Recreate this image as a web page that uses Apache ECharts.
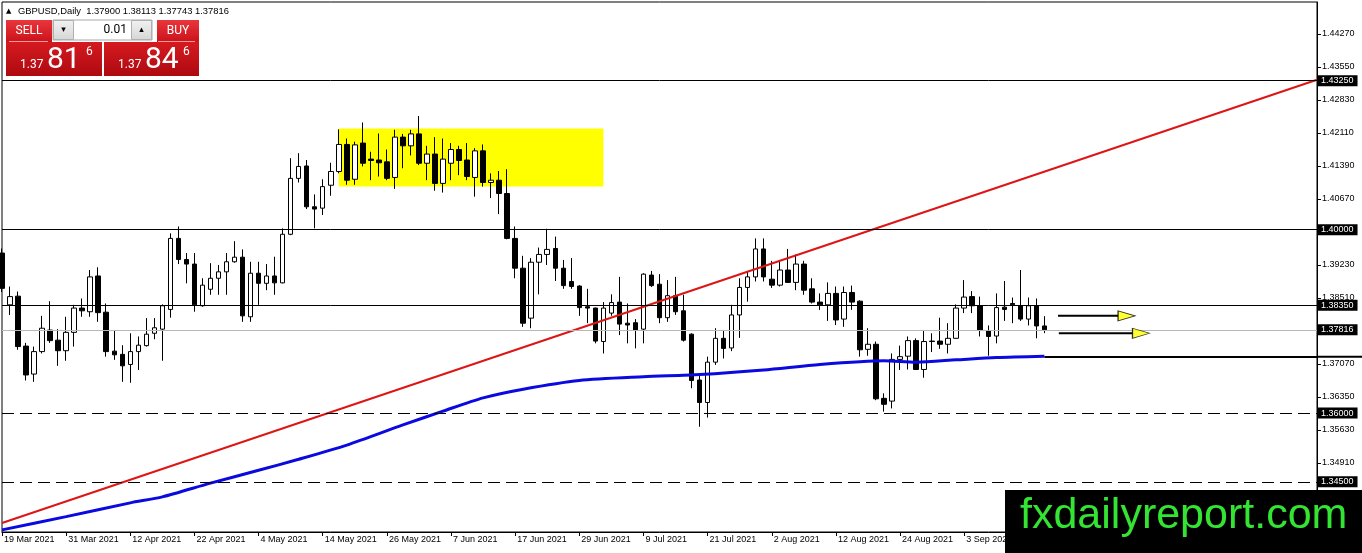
<!DOCTYPE html>
<html><head><meta charset="utf-8">
<script src="https://cdn.jsdelivr.net/npm/echarts@6/dist/echarts.min.js"></script>
<style>html,body{margin:0;padding:0;background:#fff;}#c{width:1362px;height:553px;}</style>
</head><body><div id="c"></div>
<script>
// ---------------- data ----------------
const symbolName = 'GBPUSD,Daily';
const firstDate = [2021, 2, 19];   // 19 Mar 2021 (trading days Mon-Fri)
const barCount = 165;               // visible slots incl. empty future space
const open = [1.3949,1.3836,1.3855,1.3746,1.3685,1.3734,1.3781,1.3759,1.3736,1.3776,
1.3829,1.3821,1.3899,1.3820,1.3735,1.3728,1.3706,1.3734,1.3747,1.3774,
1.3783,1.3826,1.3981,1.3935,1.3925,1.3834,1.3870,1.3894,1.3908,1.3930,
1.3940,1.3810,1.3905,1.3883,1.3899,1.3884,1.3990,1.4112,1.4139,1.4050,
1.4047,1.4097,1.4127,1.4186,1.4110,1.4189,1.4154,1.4152,1.4148,1.4114,
1.4202,1.4183,1.4209,1.4145,1.4165,1.4101,1.4145,1.4175,1.4152,1.4114,
1.4172,1.4103,1.4108,1.4079,1.3981,1.3916,1.3807,1.3929,1.3946,1.3959,
1.3916,1.3887,1.3877,1.3832,1.3829,1.3756,1.3818,1.3842,1.3796,1.3797,
1.3783,1.3901,1.3881,1.3808,1.3856,1.3823,1.3772,1.3672,1.3623,1.3711,
1.3763,1.3742,1.3814,1.3874,1.3897,1.3958,1.3892,1.3879,1.3912,1.3885,
1.3925,1.3871,1.3842,1.3836,1.3861,1.3805,1.3863,1.3844,1.3739,1.3750,
1.3632,1.3626,1.3717,1.3724,1.3758,1.3695,1.3757,1.3757,1.3750,1.3763,
1.3829,1.3854,1.3834,1.3780,1.3768,1.3831,1.3839,1.3834,1.3805,1.3834,
1.37900];
const close = [1.3872,1.3854,1.3745,1.3683,1.3734,1.3785,1.3758,1.3736,1.3776,1.3829,
1.3823,1.3897,1.3819,1.3734,1.3727,1.3703,1.3734,1.3748,1.3772,1.3786,
1.3834,1.3981,1.3935,1.3925,1.3836,1.3879,1.3894,1.3908,1.3930,1.3940,
1.3812,1.3905,1.3883,1.3899,1.3884,1.3990,1.4112,1.4138,1.4050,1.4045,
1.4094,1.4127,1.4186,1.4108,1.4185,1.4145,1.4151,1.4146,1.4112,1.4202,
1.4183,1.4209,1.4145,1.4165,1.4101,1.4154,1.4175,1.4151,1.4116,1.4172,
1.4103,1.4108,1.4079,1.3981,1.3916,1.3796,1.3929,1.3946,1.3957,1.3916,
1.3878,1.3876,1.3830,1.3829,1.3757,1.3829,1.3841,1.3794,1.3792,1.3781,
1.3903,1.3878,1.3808,1.3856,1.3821,1.3759,1.3671,1.3623,1.3711,1.3763,
1.3741,1.3814,1.3874,1.3897,1.3958,1.3897,1.3879,1.3912,1.3885,1.3925,
1.3868,1.3842,1.3836,1.3861,1.3803,1.3863,1.3842,1.3738,1.3750,1.3631,
1.3619,1.3717,1.3723,1.3758,1.3695,1.3756,1.3756,1.3750,1.3763,1.3829,
1.3853,1.3834,1.3780,1.3767,1.3830,1.3826,1.3836,1.3805,1.3834,1.3790,
1.37816];
const low = [1.3864,1.3814,1.3738,1.3671,1.3668,1.3730,1.3753,1.3703,1.3714,1.3745,
1.3810,1.3810,1.3799,1.3723,1.3716,1.3668,1.3666,1.3694,1.3745,1.3761,
1.3714,1.3808,1.3925,1.3883,1.3821,1.3832,1.3858,1.3858,1.3858,1.3928,
1.3799,1.3799,1.3836,1.3868,1.3858,1.3883,1.3988,1.4103,1.4045,1.4003,
1.4032,1.4074,1.4123,1.4098,1.4098,1.4138,1.4108,1.4116,1.4108,1.4089,
1.4134,1.4162,1.4141,1.4108,1.4085,1.4081,1.4108,1.4119,1.4108,1.4072,
1.4094,1.4069,1.4034,1.3979,1.3894,1.3788,1.3785,1.3859,1.3923,1.3888,
1.3871,1.3871,1.3812,1.3796,1.3752,1.3730,1.3812,1.3770,1.3752,1.3741,
1.3752,1.3875,1.3796,1.3799,1.3814,1.3756,1.3654,1.3570,1.3590,1.3705,
1.3719,1.3735,1.3764,1.3843,1.3887,1.3887,1.3873,1.3876,1.3884,1.3868,
1.3858,1.3839,1.3825,1.3801,1.3792,1.3788,1.3825,1.3723,1.3725,1.3628,
1.3603,1.3610,1.3694,1.3695,1.3694,1.3677,1.3733,1.3740,1.3730,1.3762,
1.3818,1.3818,1.3767,1.3725,1.3752,1.3801,1.3796,1.3801,1.3791,1.3763,
1.37743];
const high = [1.3959,1.3876,1.3865,1.3753,1.3745,1.3812,1.3844,1.3783,1.3810,1.3836,
1.3850,1.3912,1.3918,1.3839,1.3781,1.3748,1.3774,1.3767,1.3807,1.3807,
1.3837,1.3992,1.4007,1.3949,1.3949,1.3894,1.3927,1.3923,1.3949,1.3975,
1.3957,1.3930,1.3930,1.3925,1.3941,1.4003,1.4156,1.4167,1.4152,1.4077,
1.4110,1.4146,1.4219,1.4199,1.4192,1.4234,1.4170,1.4210,1.4175,1.4218,
1.4209,1.4218,1.4248,1.4183,1.4202,1.4199,1.4189,1.4183,1.4189,1.4178,
1.4186,1.4123,1.4128,1.4132,1.4007,1.3943,1.3938,1.3961,1.4002,1.3985,
1.3934,1.3938,1.3879,1.3871,1.3830,1.3842,1.3859,1.3897,1.3839,1.3805,
1.3905,1.3910,1.3903,1.3890,1.3897,1.3858,1.3774,1.3687,1.3723,1.3785,
1.3779,1.3836,1.3894,1.3910,1.3981,1.3981,1.3932,1.3934,1.3958,1.3946,
1.3932,1.3894,1.3861,1.3885,1.3876,1.3876,1.3878,1.3846,1.3785,1.3756,
1.3643,1.3730,1.3747,1.3767,1.3763,1.3779,1.3774,1.3808,1.3796,1.3837,
1.3890,1.3866,1.3854,1.3791,1.3861,1.3888,1.3852,1.3912,1.3852,1.3850,
1.38113];
// moving average read at selected bars
const maIndex = [0,8,16,20,26,32,37,43,50,55,60,65,72,80,87,95,102,110,114,119,124,130];
const maValue = [1.3345,1.3374,1.3404,1.3417,1.3447,1.3475,1.3499,1.3530,1.3574,1.3604,1.3633,1.3652,1.3671,1.3679,1.3684,1.3694,1.3706,1.3714,1.3711,1.3716,1.3721,1.3724];
// drawn objects
const trendIndex = [0, 164];
const trendValue = [1.3360, 1.4327];
const solidLevels = [1.4325, 1.4000, 1.3835];
const dashedLevels = [1.3600, 1.3450];
const bidLevel = 1.37816;
const rayStartIndex = 130, rayValue = 1.3723;
const zoneIndex = [42, 75], zoneValue = [1.4221, 1.4094];
const arrowFrom = [131.7, 131.8], arrowTo = [139.2, 141.05], arrowHead = [140.25, 142.05], arrowValue = [1.3812, 1.3774];
const yTicks = [1.34190,1.34910,1.35630,1.36350,1.37070,1.37790,1.38510,1.39230,1.39950,1.40670,1.41390,1.42110,1.42830,1.43550,1.44270];
const yMin = 1.33404, yMax = 1.44968;
const sellQuote = ['1.37', '81', '6'], buyQuote = ['1.37', '84', '6'], lotSize = '0.01';

// ---------------- build ----------------
const MONTHS = ['Jan','Feb','Mar','Apr','May','Jun','Jul','Aug','Sep','Oct','Nov','Dec'];
const dates = [];
let d = new Date(Date.UTC(firstDate[0], firstDate[1], firstDate[2]));
while (dates.length < barCount) {
  const wd = d.getUTCDay();
  if (wd !== 0 && wd !== 6) dates.push(d.getUTCDate() + ' ' + MONTHS[d.getUTCMonth()] + ' ' + d.getUTCFullYear());
  d = new Date(d.getTime() + 86400000);
}
const candles = open.map((o, i) => [o, close[i], low[i], high[i]]);
const last = open.length - 1;
const FONT = 'Liberation Sans';

const levelLabel = {show:true, position:'end', distance:1, formatter:p => Number(p.value).toFixed(5),
  backgroundColor:'#000', color:'#fff', fontSize:9, fontFamily:FONT, padding:[1,4,0,3], lineHeight:10};
const markLineData = [];
solidLevels.forEach(v => markLineData.push({yAxis:v, lineStyle:{color:'#000', width:1, type:'solid'}}));
markLineData.push({yAxis:bidLevel, lineStyle:{color:'#b8b8b8', width:1, type:'solid'}});
dashedLevels.forEach(v => markLineData.push({yAxis:v, lineStyle:{color:'#000', width:1, type:[12,6]}}));
markLineData.push([{coord:[dates[rayStartIndex], rayValue], lineStyle:{color:'#000', width:2, type:'solid'}, label:{show:false}},
                   {coord:[dates[barCount-1], rayValue]}]);

const series = [
  {type:'candlestick', name:'price', data:candles, barWidth:5, z:2, silent:true,
   itemStyle:{color:'#fff', color0:'#000', borderColor:'#000', borderColor0:'#000', borderWidth:1},
   markArea:{silent:true, itemStyle:{color:'#ffff00'}, data:[[{coord:[dates[zoneIndex[0]], zoneValue[0]]},{coord:[dates[zoneIndex[1]], zoneValue[1]]}]]},
   markLine:{silent:true, symbol:['none','none'], precision:5, label:levelLabel, data:markLineData, animation:false}
  },
  {type:'line', name:'trend', data:trendIndex.map((i,k)=>[dates[i], trendValue[k]]), symbol:'none', z:4, silent:true,
   lineStyle:{color:'#dd1515', width:2}},
  {type:'line', name:'MA', data:maIndex.map((i,k)=>[dates[i], maValue[k]]), symbol:'none', smooth:0.25, z:4, silent:true,
   lineStyle:{color:'#0a0ae0', width:3}}
];
arrowFrom.forEach((f, k) => {
  series.push({type:'line', xAxisIndex:1, data:[[f, arrowValue[k]],[arrowTo[k], arrowValue[k]]], symbol:'none', z:5, silent:true,
    lineStyle:{color:'#000', width:2}});
});
series.push({type:'scatter', xAxisIndex:1, data:arrowHead.map((h,k)=>[h, arrowValue[k]]), symbol:'triangle', symbolSize:[10,17],
  symbolRotate:-90, z:6, silent:true, itemStyle:{color:'#ffff00', borderColor:'#000', borderWidth:1}});

const chart = echarts.init(document.getElementById('c'), null, {renderer:'canvas'});
chart.setOption({
  animation:false,
  backgroundColor:'#fff',
  grid:{left:2, right:45, top:2, bottom:21, show:true, borderColor:'#000', borderWidth:1, backgroundColor:'#fff', containLabel:false, outerBoundsMode:'none'},
  xAxis:[
    {type:'category', data:dates, boundaryGap:false,
     axisLine:{show:true, onZero:false, lineStyle:{color:'#000', width:1}},
     axisTick:{show:true, interval:7, length:4, lineStyle:{color:'#000'}},
     axisLabel:{show:true, interval:7, align:'left', fontSize:9, fontFamily:FONT, color:'#000', margin:3, padding:[0,0,0,2]},
     splitLine:{show:false}},
    {type:'value', min:0, max:barCount-1, show:false, axisLine:{onZero:false}}
  ],
  yAxis:{type:'value', position:'right', min:yMin, max:yMax, scale:true,
    axisLine:{show:true, onZero:false, lineStyle:{color:'#000'}},
    axisTick:{show:true, length:4, customValues:yTicks, lineStyle:{color:'#000'}},
    axisLabel:{show:true, customValues:yTicks, formatter:v => Number(v).toFixed(5), fontSize:9, fontFamily:FONT, color:'#000', margin:5},
    splitLine:{show:false}},
  series:series
});

// graphics (panel, header, watermark, ray extension derived from the scales)
const rayY = chart.convertToPixel({yAxisIndex:0}, rayValue);
const rayX = chart.convertToPixel({xAxisIndex:0}, dates[barCount-1]);
const redGrad = (a,b) => new echarts.graphic.LinearGradient(0,0,0,1,[{offset:0,color:a},{offset:1,color:b}]);
const header = symbolName + '  ' + [open[last], high[last], low[last], close[last]].map(v=>v.toFixed(5)).join(' ');
const PF = 'Roboto';
const g = [
  {type:'line', shape:{x1:rayX, y1:rayY, x2:1362, y2:rayY}, style:{stroke:'#000', lineWidth:2}, z:50},
  {type:'text', x:6, y:11, style:{text:'▲', fontSize:7, fontFamily:'DejaVu Sans', fill:'#000', verticalAlign:'middle'}, z:50},
  {type:'text', x:18, y:11, style:{text:header, fontSize:9.4, fontFamily:FONT, fill:'#000', verticalAlign:'middle'}, z:50},
  // SELL
  {type:'rect', shape:{x:6, y:20, width:46, height:22}, style:{fill:redGrad('#e8363b','#cc121a')}, z:50},
  {type:'line', shape:{x1:9, y1:41.5, x2:48, y2:41.5}, style:{stroke:'#f29a9a', lineWidth:1}, z:51},
  {type:'text', x:29, y:31, style:{text:'SELL', fontSize:12, fontFamily:PF, fill:'#fff', align:'center', verticalAlign:'middle'}, z:51},
  // lot control
  {type:'rect', shape:{x:53, y:20, width:99, height:20}, style:{fill:'#fff', stroke:'#a8a8a8', lineWidth:1}, z:50},
  {type:'rect', shape:{x:53.5, y:20.5, width:20, height:19}, style:{fill:redGrad('#f2f2f2','#d6d6d6'), stroke:'#b0b0b0', lineWidth:1}, z:51},
  {type:'rect', shape:{x:131.5, y:20.5, width:20, height:19}, style:{fill:redGrad('#f2f2f2','#d6d6d6'), stroke:'#b0b0b0', lineWidth:1}, z:51},
  {type:'text', x:63.5, y:30, style:{text:'▾', fontSize:9, fontFamily:'DejaVu Sans', fill:'#000', align:'center', verticalAlign:'middle'}, z:52},
  {type:'text', x:141.5, y:30, style:{text:'▴', fontSize:9, fontFamily:'DejaVu Sans', fill:'#000', align:'center', verticalAlign:'middle'}, z:52},
  {type:'text', x:127, y:30, style:{text:lotSize, fontSize:12, fontFamily:PF, fill:'#000', align:'right', verticalAlign:'middle'}, z:52},
  // BUY
  {type:'rect', shape:{x:157, y:20, width:42, height:22}, style:{fill:redGrad('#e8363b','#cc121a')}, z:50},
  {type:'line', shape:{x1:158, y1:41.5, x2:195, y2:41.5}, style:{stroke:'#f29a9a', lineWidth:1}, z:51},
  {type:'text', x:178, y:31, style:{text:'BUY', fontSize:12, fontFamily:PF, fill:'#fff', align:'center', verticalAlign:'middle'}, z:51},
  // quotes
  {type:'rect', shape:{x:6, y:42, width:96, height:34}, style:{fill:redGrad('#d51a20','#ad0a10')}, z:50},
  {type:'rect', shape:{x:104, y:42, width:95, height:34}, style:{fill:redGrad('#d51a20','#ad0a10')}, z:50},
  {type:'text', x:20, y:65, style:{text:sellQuote[0], fontSize:12, fontFamily:PF, fill:'#fff', verticalAlign:'middle'}, z:51},
  {type:'text', x:47, y:60, style:{text:sellQuote[1], fontSize:30, fontFamily:PF, fill:'#fff', verticalAlign:'middle'}, z:51},
  {type:'text', x:86, y:52, style:{text:sellQuote[2], fontSize:12, fontFamily:PF, fill:'#fff', verticalAlign:'middle'}, z:51},
  {type:'text', x:118, y:65, style:{text:buyQuote[0], fontSize:12, fontFamily:PF, fill:'#fff', verticalAlign:'middle'}, z:51},
  {type:'text', x:145, y:60, style:{text:buyQuote[1], fontSize:30, fontFamily:PF, fill:'#fff', verticalAlign:'middle'}, z:51},
  {type:'text', x:183, y:52, style:{text:buyQuote[2], fontSize:12, fontFamily:PF, fill:'#fff', verticalAlign:'middle'}, z:51},
  // watermark
  {type:'rect', shape:{x:1005, y:490, width:357, height:63}, style:{fill:'#000'}, z:100},
  {type:'text', x:1020, y:516, style:{text:'fxdailyreport.com', fontSize:43, fontFamily:'Liberation Sans', fill:'#33e433', verticalAlign:'middle'}, z:101}
];
chart.setOption({graphic:g});
</script>
</body></html>
